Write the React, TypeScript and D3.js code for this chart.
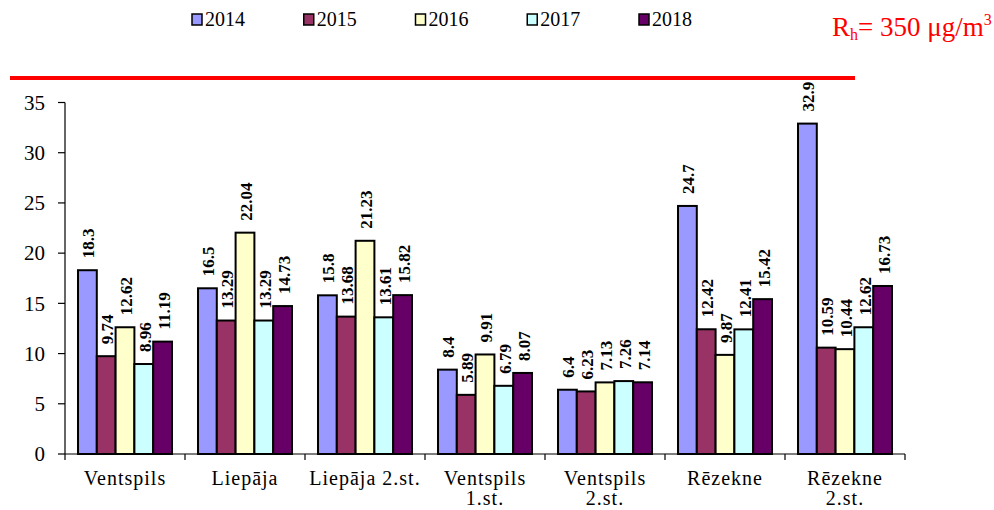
import React from 'react';
import * as d3 from 'd3';

const categories = ['Ventspils', 'Liepāja', 'Liepāja 2.st.', 'Ventspils\n1.st.', 'Ventspils\n2.st.', 'Rēzekne', 'Rēzekne\n2.st.'];
const years = ['2014', '2015', '2016', '2017', '2018'];
const values2014 = [18.3, 16.5, 15.8, 8.4, 6.4, 24.7, 32.9];
const values2015 = [9.74, 13.29, 13.68, 5.89, 6.23, 12.42, 10.59];
const values2016 = [12.62, 22.04, 21.23, 9.91, 7.13, 9.87, 10.44];
const values2017 = [8.96, 13.29, 13.61, 6.79, 7.26, 12.41, 12.62];
const values2018 = [11.19, 14.73, 15.82, 8.07, 7.14, 15.42, 16.73];
const yTicks = [0, 5, 10, 15, 20, 25, 30, 35];
const colors = ['#9999FF', '#993366', '#FFFFCC', '#CCFFFF', '#660066'];

const series = [values2014, values2015, values2016, values2017, values2018];
const font = '"Liberation Serif", "Times New Roman", serif';

const App: React.FC = () => {
  const width = 994;
  const height = 510;
  const plotLeft = 65;
  const plotRight = 905;

  const y = d3.scaleLinear().domain([0, 35]).range([454, 102.5]);
  const x0 = d3.scaleBand().domain(categories).range([plotLeft, plotRight]).padding(0);
  const x1 = d3.scaleBand().domain(years).range([13, x0.bandwidth() - 13]).padding(0);
  const legendX = d3.scalePoint().domain(years).range([192, 639]);

  return (
    <svg width={width} height={height} style={{ position: 'absolute', left: 0, top: 0, background: '#fff' }}>
      {/* legend */}
      {years.map((yr, i) => (
        <g key={yr} transform={`translate(${legendX(yr)},14)`}>
          <rect x={0} y={0} width={10} height={11} fill={colors[i]} stroke="#000" strokeWidth={1.5} />
          <text x={13} y={12} fontFamily={font} fontSize={20}>{yr}</text>
        </g>
      ))}

      <text x={832} y={36} fontFamily={font} fontSize={27} fill="#FF0000">
        R<tspan fontSize={16} dy={4}>h</tspan>
        <tspan dy={-4}>= 350 μg/m</tspan>
        <tspan fontSize={16} dy={-11}>3</tspan>
      </text>
      <line x1={10} x2={855} y1={78} y2={78} stroke="#FF0000" strokeWidth={4} />

      {/* y axis */}
      <line x1={plotLeft} x2={plotLeft} y1={y(35)} y2={y(0)} stroke="#000" strokeWidth={1.2} />
      {yTicks.map(t => (
        <g key={t}>
          <line x1={plotLeft - 7} x2={plotLeft} y1={y(t)} y2={y(t)} stroke="#000" strokeWidth={1.2} />
          <text x={45} y={y(t)} dy="0.35em" textAnchor="end" fontFamily={font} fontSize={21}>{t}</text>
        </g>
      ))}

      {/* x axis */}
      <line x1={plotLeft} x2={plotRight} y1={y(0)} y2={y(0)} stroke="#000" strokeWidth={1.2} />
      {d3.range(categories.length + 1).map(i => {
        const xx = plotLeft + i * x0.bandwidth();
        return <line key={i} x1={xx} x2={xx} y1={y(0)} y2={y(0) + 6} stroke="#000" strokeWidth={1.2} />;
      })}

      {/* bars */}
      {categories.map((cat, ci) => (
        <g key={cat} transform={`translate(${x0(cat)},0)`}>
          {years.map((yr, si) => {
            const v = series[si][ci];
            const bx = x1(yr)!;
            const bw = x1.bandwidth();
            return (
              <g key={yr}>
                <rect x={bx} y={y(v)} width={bw} height={y(0) - y(v)} fill={colors[si]} stroke="#000" strokeWidth={2} />
                <text
                  transform={`translate(${bx + bw / 2 + 1},${y(v) - 12}) rotate(-90)`}
                  dy="0.35em"
                  fontFamily={font}
                  fontSize={17}
                  fontWeight="bold"
                >
                  {v}
                </text>
              </g>
            );
          })}
          {cat.split('\n').map((line, li) => (
            <text
              key={li}
              x={x0.bandwidth() / 2}
              y={485 + li * 20}
              textAnchor="middle"
              fontFamily={font}
              fontSize={20}
              letterSpacing={1}
            >
              {line}
            </text>
          ))}
        </g>
      ))}
    </svg>
  );
};

export default App;
